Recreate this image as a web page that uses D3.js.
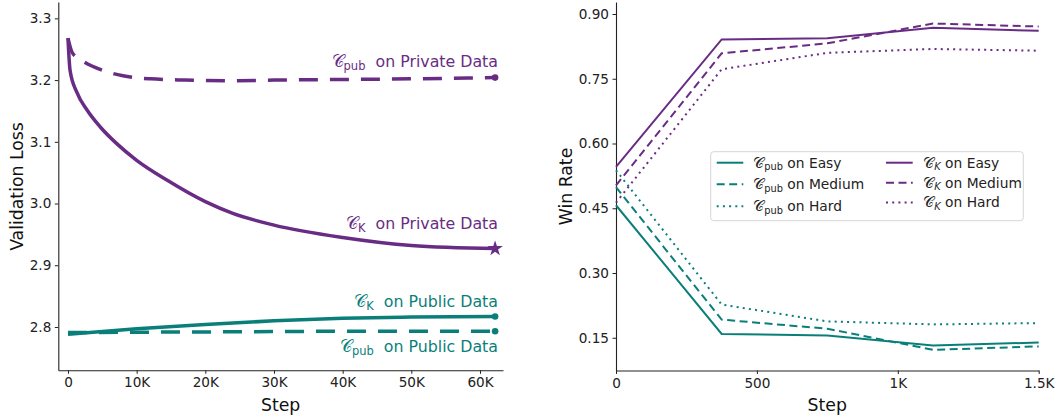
<!DOCTYPE html>
<html>
<head>
<meta charset="utf-8">
<script src="https://cdn.jsdelivr.net/npm/d3@7"></script>
<style>
  body { margin: 0; background: #fff; }
  svg { display: block; font-family: "DejaVu Sans", sans-serif; }
</style>
</head>
<body>
<svg id="chart" width="1058" height="417"></svg>
<script>
// ---------- Left panel data: validation loss ----------
const lossTicks = [2.8, 2.9, 3.0, 3.1, 3.2, 3.3];
const stepTicksLeft = [0, 10000, 20000, 30000, 40000, 50000, 60000];
const ckPrivSteps = [0, 300, 1300, 2800, 4700, 7100, 10000, 14400, 20000, 24000, 30000, 40000, 50000, 62200];
const ckPrivate   = [3.268, 3.216, 3.18, 3.151, 3.124, 3.097, 3.070, 3.038, 3.003, 2.984, 2.965, 2.945, 2.932, 2.927];
const cpubPrivSteps = [0, 600, 2000, 5000, 8000, 12000, 17000, 24000, 30000, 40000, 50000, 62200];
const cpubPrivate   = [3.268, 3.245, 3.232, 3.216, 3.207, 3.202, 3.200, 3.199, 3.200, 3.201, 3.202, 3.204];
const ckPubSteps = [0, 10000, 20000, 30000, 40000, 50000, 62200];
const ckPublic   = [2.788, 2.797, 2.804, 2.810, 2.814, 2.816, 2.817];
const cpubPubSteps = [0, 20000, 40000, 62200];
const cpubPublic   = [2.791, 2.792, 2.793, 2.793];

// ---------- Right panel data: win rate ----------
const winSteps = [0, 375, 750, 1125, 1500];
const winTicks = [0.15, 0.30, 0.45, 0.60, 0.75, 0.90];
const stepTicksRight = [0, 500, 1000, 1500];
const stepTickLabelsRight = ["0", "500", "1K", "1.5K"];
const cpubEasy   = [0.457, 0.159, 0.155, 0.132, 0.139];
const cpubMedium = [0.499, 0.192, 0.171, 0.122, 0.130];
const cpubHard   = [0.538, 0.227, 0.188, 0.181, 0.184];
const ckEasy     = [0.546, 0.841, 0.844, 0.868, 0.861];
const ckMedium   = [0.503, 0.809, 0.832, 0.878, 0.871];
const ckHard     = [0.463, 0.772, 0.810, 0.819, 0.815];

const PURPLE = "#692c84";
const TEAL = "#0a7f7a";
const CAL = "𝒞";

const svg = d3.select("#chart");

function styleAxis(g) {
  g.selectAll(".domain").attr("stroke", "#222").attr("stroke-width", 1.1);
  g.selectAll(".tick line").attr("stroke", "#222").attr("stroke-width", 1);
  g.selectAll(".tick text").attr("fill", "#222").style("font-size", "13.6px").style("font-family", "DejaVu Sans");
}

// ================= LEFT PANEL =================
const xL = d3.scaleLinear().domain([-1410, 63350]).range([58.3, 503]);
const yL = d3.scaleLinear().domain([2.7298, 3.3265]).range([370.3, 2]);

svg.append("g").attr("transform", "translate(0,370.3)")
  .call(d3.axisBottom(xL).tickValues(stepTicksLeft).tickSize(3.5).tickPadding(4)
    .tickFormat(d => d === 0 ? "0" : (d / 1000) + "K").tickSizeOuter(0))
  .call(styleAxis);
svg.append("g").attr("transform", "translate(58.3,0)")
  .call(d3.axisLeft(yL).tickValues(lossTicks).tickSize(3.5).tickPadding(3.5)
    .tickFormat(d3.format(".1f")).tickSizeOuter(0))
  .call(styleAxis);

const lineL = d3.line().x(d => xL(d[0])).y(d => yL(d[1])).curve(d3.curveMonotoneX);
function zip(a, b) { return a.map((v, i) => [v, b[i]]); }

const leftSeries = [
  { steps: cpubPubSteps, vals: cpubPublic, color: TEAL, dash: "19,12", end: "circle" },
  { steps: ckPubSteps, vals: ckPublic, color: TEAL, dash: null, end: "circle" },
  { steps: cpubPrivSteps, vals: cpubPrivate, color: PURPLE, dash: "19,12", end: "circle" },
  { steps: ckPrivSteps, vals: ckPrivate, color: PURPLE, dash: null, end: "star" }
];
leftSeries.forEach(s => {
  const pts = zip(s.steps, s.vals);
  svg.append("path").datum(pts)
    .attr("d", lineL).attr("fill", "none")
    .attr("stroke", s.color).attr("stroke-width", 3.5)
    .attr("stroke-dasharray", s.dash)
    .attr("stroke-linecap", "butt");
  const last = pts[pts.length - 1];
  if (s.end === "circle") {
    svg.append("circle").attr("cx", xL(last[0])).attr("cy", yL(last[1])).attr("r", 3.3).attr("fill", s.color);
  } else {
    svg.append("path").attr("d", d3.symbol().type(d3.symbolStar).size(75)())
      .attr("transform", `translate(${xL(last[0])},${yL(last[1])})`).attr("fill", s.color);
  }
});

// annotations
function annot(y, sub, rest, color) {
  const t = svg.append("text").attr("x", 498).attr("y", y).attr("text-anchor", "end")
    .attr("fill", color).style("font-size", "15.8px");
  t.append("tspan").text(CAL).style("font-family", "DejaVu Serif, serif").style("font-size", "17px");
  t.append("tspan").text(sub).style("font-size", "11.5px").attr("dy", 3);
  t.append("tspan").text("\u00a0\u00a0" + rest).attr("dy", -3);
}
annot(66.7, "pub", "on Private Data", PURPLE);
annot(229.3, "K", "on Private Data", PURPLE);
annot(306.5, "K", "on Public Data", TEAL);
annot(352, "pub", "on Public Data", TEAL);

svg.append("text").attr("x", 280.6).attr("y", 410.5).attr("text-anchor", "middle")
  .style("font-size", "17.3px").attr("fill", "#111").text("Step");
svg.append("text").attr("transform", "translate(22.5,186.5) rotate(-90)").attr("text-anchor", "middle")
  .style("font-size", "17.3px").attr("fill", "#111").text("Validation Loss");

// ================= RIGHT PANEL =================
const xR = d3.scaleLinear().domain([0, 1500]).range([616, 1038.7]);
const yR = d3.scaleLinear().domain([0.0742, 0.9278]).range([370.5, 2]);

svg.append("g").attr("transform", "translate(0,370.5)")
  .call(d3.axisBottom(xR).tickValues(stepTicksRight).tickSize(3.5).tickPadding(4)
    .tickFormat((d, i) => stepTickLabelsRight[i]).tickSizeOuter(0))
  .call(styleAxis);
svg.append("g").attr("transform", "translate(616,0)")
  .call(d3.axisLeft(yR).tickValues(winTicks).tickSize(3.5).tickPadding(3.5)
    .tickFormat(d3.format(".2f")).tickSizeOuter(0))
  .call(styleAxis);

const lineR = d3.line().x(d => xR(d[0])).y(d => yR(d[1]));
const DASH = "8,4.5", DOT = "2,4.2";
const rightSeries = [
  { vals: cpubEasy, color: TEAL, dash: null, sub: "pub", label: "on Easy", col: 0, row: 0 },
  { vals: cpubMedium, color: TEAL, dash: DASH, sub: "pub", label: "on Medium", col: 0, row: 1 },
  { vals: cpubHard, color: TEAL, dash: DOT, sub: "pub", label: "on Hard", col: 0, row: 2 },
  { vals: ckEasy, color: PURPLE, dash: null, sub: "K", label: "on Easy", col: 1, row: 0 },
  { vals: ckMedium, color: PURPLE, dash: DASH, sub: "K", label: "on Medium", col: 1, row: 1 },
  { vals: ckHard, color: PURPLE, dash: DOT, sub: "K", label: "on Hard", col: 1, row: 2 }
];
rightSeries.forEach(s => {
  svg.append("path").datum(zip(winSteps, s.vals))
    .attr("d", lineR).attr("fill", "none")
    .attr("stroke", s.color).attr("stroke-width", 2)
    .attr("stroke-dasharray", s.dash);
});

// legend
svg.append("rect").attr("x", 710.7).attr("y", 151.7).attr("width", 312.6).attr("height", 69)
  .attr("rx", 3).attr("fill", "rgba(255,255,255,0.85)").attr("stroke", "#d6d6d6").attr("stroke-width", 1);
const legCols = [
  { hx0: 716.7, hx1: 743.3, tx: 753.3, ys: [162.7, 184.3, 206.3] },
  { hx0: 886, hx1: 912.7, tx: 923.3, ys: [162.7, 182.7, 202.5] }
];
rightSeries.forEach(s => {
  const c = legCols[s.col];
  const y = c.ys[s.row];
  svg.append("line").attr("x1", c.hx0).attr("x2", c.hx1).attr("y1", y).attr("y2", y)
    .attr("stroke", s.color).attr("stroke-width", 2).attr("stroke-dasharray", s.dash);
  const t = svg.append("text").attr("x", c.tx).attr("y", y + 4.8).attr("fill", "#222")
    .style("font-size", "13.8px");
  t.append("tspan").text(CAL).style("font-family", "DejaVu Serif, serif").style("font-size", "14.5px");
  t.append("tspan").text(s.sub).style("font-size", "9.8px").attr("dy", 2.5)
    .style("font-style", s.sub === "K" ? "italic" : "normal");
  t.append("tspan").text(" " + s.label).attr("dy", -2.5);
});

svg.append("text").attr("x", 827.3).attr("y", 410.5).attr("text-anchor", "middle")
  .style("font-size", "17.3px").attr("fill", "#111").text("Step");
svg.append("text").attr("transform", "translate(572,186.5) rotate(-90)").attr("text-anchor", "middle")
  .style("font-size", "17.3px").attr("fill", "#111").text("Win Rate");
</script>
</body>
</html>
